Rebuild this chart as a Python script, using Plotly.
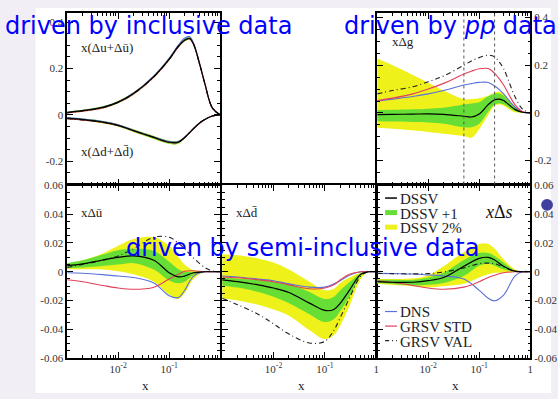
import plotly.graph_objects as go

W, H = 558, 399

# ---------------- data ----------------
x_tl = [0.001, 0.002, 0.005, 0.01, 0.02, 0.05, 0.1, 0.15, 0.2, 0.25, 0.3, 0.4, 0.5, 0.7, 1.0]
uplus_dssv = [0.010, 0.018, 0.032, 0.055, 0.092, 0.165, 0.240, 0.295, 0.322, 0.330, 0.305, 0.215, 0.135, 0.030, 0.0]
uplus_dns  = [0.011, 0.019, 0.034, 0.057, 0.094, 0.168, 0.245, 0.300, 0.330, 0.338, 0.310, 0.218, 0.136, 0.030, 0.0]
uplus_grsv = [0.008, 0.016, 0.030, 0.053, 0.090, 0.163, 0.238, 0.292, 0.320, 0.328, 0.303, 0.214, 0.134, 0.030, 0.0]
uplus_val  = [0.009, 0.017, 0.031, 0.054, 0.091, 0.164, 0.239, 0.293, 0.321, 0.329, 0.304, 0.214, 0.134, 0.030, 0.0]
uplus_y_up = [0.014, 0.022, 0.037, 0.060, 0.097, 0.170, 0.246, 0.301, 0.328, 0.335, 0.309, 0.218, 0.137, 0.031, 0.0]
uplus_y_lo = [0.006, 0.014, 0.027, 0.050, 0.087, 0.160, 0.234, 0.289, 0.316, 0.325, 0.301, 0.212, 0.133, 0.029, 0.0]
dplus_dssv = [-0.014, -0.020, -0.031, -0.045, -0.068, -0.097, -0.118, -0.118, -0.098, -0.077, -0.059, -0.034, -0.020, -0.005, 0.0]
dplus_dns  = [-0.012, -0.018, -0.029, -0.043, -0.066, -0.095, -0.115, -0.115, -0.096, -0.076, -0.058, -0.034, -0.020, -0.005, 0.0]
dplus_grsv = [-0.017, -0.023, -0.033, -0.047, -0.069, -0.098, -0.119, -0.119, -0.099, -0.078, -0.060, -0.035, -0.020, -0.005, 0.0]
dplus_val  = [-0.016, -0.022, -0.032, -0.046, -0.068, -0.097, -0.118, -0.118, -0.098, -0.077, -0.059, -0.034, -0.020, -0.005, 0.0]
dplus_y_up = [-0.010, -0.016, -0.026, -0.040, -0.062, -0.091, -0.112, -0.112, -0.094, -0.074, -0.057, -0.033, -0.019, -0.005, 0.0]
dplus_y_lo = [-0.018, -0.024, -0.036, -0.050, -0.074, -0.104, -0.125, -0.125, -0.102, -0.080, -0.061, -0.035, -0.021, -0.005, 0.0]

x_g = [0.001, 0.002, 0.005, 0.01, 0.02, 0.05, 0.07, 0.1, 0.15, 0.2, 0.25, 0.3, 0.5, 0.7, 1.0]
g_dssv = [-0.007, -0.006, -0.005, -0.004, -0.006, -0.014, -0.017, -0.004, 0.035, 0.055, 0.058, 0.052, 0.015, 0.003, 0.0]
g_g_up = [0.012, 0.013, 0.015, 0.018, 0.022, 0.035, 0.040, 0.045, 0.070, 0.080, 0.080, 0.072, 0.022, 0.004, 0.0]
g_g_lo = [-0.035, -0.036, -0.038, -0.040, -0.045, -0.060, -0.060, -0.045, 0.005, 0.035, 0.040, 0.036, 0.008, 0.001, 0.0]
g_y_up = [0.228, 0.200, 0.159, 0.127, 0.094, 0.058, 0.058, 0.062, 0.072, 0.086, 0.088, 0.080, 0.028, 0.005, 0.0]
g_y_lo = [-0.062, -0.066, -0.073, -0.080, -0.087, -0.097, -0.104, -0.068, -0.008, 0.030, 0.035, 0.030, 0.003, 0.0, 0.0]
g_dns  = [0.050, 0.058, 0.069, 0.080, 0.094, 0.117, 0.123, 0.128, 0.128, 0.113, 0.097, 0.080, 0.025, 0.004, 0.0]
g_grsv = [0.052, 0.062, 0.080, 0.100, 0.124, 0.163, 0.175, 0.185, 0.186, 0.166, 0.142, 0.117, 0.035, 0.006, 0.0]
g_val  = [0.080, 0.094, 0.110, 0.131, 0.155, 0.200, 0.218, 0.232, 0.242, 0.235, 0.212, 0.186, 0.069, 0.017, 0.0]

x_b = [0.001, 0.002, 0.005, 0.01, 0.02, 0.05, 0.1, 0.15, 0.2, 0.3, 0.5, 0.7, 1.0]
ub_dssv = [0.0042, 0.0055, 0.0082, 0.010, 0.011, 0.008, -0.0007, -0.0035, -0.003, -0.0007, 0.0, 0.0, 0.0]
ub_g_up = [0.006, 0.008, 0.012, 0.015, 0.016, 0.0145, 0.007, 0.002, 0.0, 0.0, 0.0, 0.0, 0.0]
ub_g_lo = [0.0025, 0.003, 0.004, 0.005, 0.006, 0.0016, -0.006, -0.008, -0.007, -0.002, 0.0, 0.0, 0.0]
ub_y_up = [0.0055, 0.008, 0.0127, 0.018, 0.0227, 0.024, 0.018, 0.0104, 0.005, 0.001, 0.0, 0.0, 0.0]
ub_y_lo = [0.002, 0.0018, 0.0016, 0.0004, -0.0018, -0.007, -0.016, -0.019, -0.015, -0.005, 0.0, 0.0, 0.0]
ub_dns  = [-0.0007, -0.001, -0.002, -0.003, -0.004, -0.0078, -0.0167, -0.018, -0.013, -0.003, 0.0, 0.0, 0.0]
ub_grsv = [-0.0056, -0.0069, -0.0095, -0.0113, -0.0122, -0.0107, -0.005, -0.0018, 0.0004, 0.0007, 0.0, 0.0, 0.0]
ub_val  = [0.003, 0.005, 0.008, 0.011, 0.016, 0.024, 0.024, 0.020, 0.016, 0.0095, 0.003, 0.0005, 0.0]

db_dssv = [-0.0056, -0.0069, -0.0091, -0.0113, -0.0144, -0.0218, -0.0269, -0.0262, -0.0218, -0.0129, -0.0018, 0.0, 0.0]
db_g_up = [-0.004, -0.0048, -0.0056, -0.0069, -0.0084, -0.014, -0.0189, -0.0173, -0.0129, -0.0073, -0.001, 0.0, 0.0]
db_g_lo = [-0.0095, -0.011, -0.014, -0.0173, -0.0218, -0.0295, -0.035, -0.0329, -0.0273, -0.0173, -0.0029, 0.0, 0.0]
db_y_up = [0.0122, 0.0115, 0.0093, 0.0064, 0.0016, -0.0069, -0.0129, -0.0118, -0.0078, -0.004, -0.0007, 0.0, 0.0]
db_y_lo = [-0.0184, -0.020, -0.0229, -0.0262, -0.0306, -0.0406, -0.0468, -0.044, -0.0373, -0.024, -0.0051, 0.0, 0.0]
db_dns  = [-0.0029, -0.0036, -0.0051, -0.0062, -0.0084, -0.0107, -0.0107, -0.0084, -0.0062, -0.0024, 0.0, 0.0, 0.0]
db_grsv = [-0.0036, -0.0042, -0.0056, -0.0069, -0.0091, -0.0118, -0.0113, -0.009, -0.0056, -0.0018, 0.0, 0.0, 0.0]
db_val  = [-0.0184, -0.0229, -0.0295, -0.0362, -0.0433, -0.0495, -0.0484, -0.0406, -0.0318, -0.0184, -0.003, 0.0, 0.0]

s_dssv = [-0.0069, -0.0073, -0.0073, -0.0062, -0.004, 0.0038, 0.0093, 0.010, 0.0082, 0.0038, 0.0004, 0.0, 0.0]
s_g_up = [-0.0056, -0.0056, -0.0056, -0.004, -0.0007, 0.0082, 0.013, 0.013, 0.011, 0.0064, 0.0009, 0.0, 0.0]
s_g_lo = [-0.0078, -0.0085, -0.0095, -0.0091, -0.0078, -0.0029, 0.0042, 0.0056, 0.0042, 0.0016, 0.0, 0.0, 0.0]
s_y_up = [-0.0051, -0.005, -0.0047, -0.0024, 0.0038, 0.0138, 0.0193, 0.0193, 0.016, 0.0087, 0.0016, 0.0, 0.0]
s_y_lo = [-0.0084, -0.0092, -0.010, -0.0107, -0.010, -0.0084, -0.004, -0.0018, -0.0007, -0.0007, -0.0002, 0.0, 0.0]
s_dns  = [-0.0011, -0.0013, -0.0016, -0.0022, -0.0029, -0.0051, -0.0129, -0.0184, -0.0202, -0.0162, -0.003, 0.0, 0.0]
s_grsv = [-0.0062, -0.0073, -0.0095, -0.0113, -0.0122, -0.0107, -0.0069, -0.004, -0.0024, -0.0007, 0.0, 0.0, 0.0]
s_val  = [-0.0011, -0.0013, -0.0015, -0.0013, -0.0002, 0.0027, 0.0056, 0.006, 0.0056, 0.0033, 0.0004, 0.0, 0.0]

legend_top = ["DSSV", "DSSV +1", "DSSV 2%"]
legend_bottom = ["DNS", "GRSV STD", "GRSV VAL"]

x_major = [0.01, 0.1, 1.0]
x_major_text = ["10<sup>-2</sup>", "10<sup>-1</sup>", "1"]
x_minor = [m * d for d in (0.001, 0.01, 0.1) for m in range(2, 10)]
ytop_vals = [-0.2, 0.0, 0.2, 0.4]
ytop_text = ["-0.2", "0", "0.2", "0.4"]
ybot_vals = [-0.06, -0.04, -0.02, 0.0, 0.02, 0.04, 0.06]
ybot_text = ["-0.06", "-0.04", "-0.02", "0", "0.02", "0.04", "0.06"]

# ---------------- styling ----------------
YELLOW = "#eef21a"
GREEN = "#66de36"
BLUE = "#5a72d8"
RED = "#e2405c"
VALC = "#222222"
VALDASH = "5px,3px,1px,3px"
SERIF = "Liberation Serif"

fig = go.Figure()


def add_panel(ax, x, dssv, g_up, g_lo, y_up, y_lo, dns, grsv, val):
    xa, ya = ("x" + ax, "y" + ax)
    common = dict(xaxis=xa, yaxis=ya, hoverinfo="skip", mode="lines", showlegend=False)
    fig.add_trace(go.Scatter(x=x, y=y_up, line=dict(width=0, shape="spline", color=YELLOW), **common))
    fig.add_trace(go.Scatter(x=x, y=y_lo, fill="tonexty", fillcolor=YELLOW,
                             line=dict(width=0, shape="spline", color=YELLOW), name=legend_top[2], **common))
    fig.add_trace(go.Scatter(x=x, y=g_up, line=dict(width=0, shape="spline", color=GREEN), **common))
    fig.add_trace(go.Scatter(x=x, y=g_lo, fill="tonexty", fillcolor=GREEN,
                             line=dict(width=0, shape="spline", color=GREEN), name=legend_top[1], **common))
    fig.add_trace(go.Scatter(x=x, y=dns, line=dict(width=1.1, shape="spline", color=BLUE),
                             name=legend_bottom[0], **common))
    fig.add_trace(go.Scatter(x=x, y=grsv, line=dict(width=1.1, shape="spline", color=RED),
                             name=legend_bottom[1], **common))
    fig.add_trace(go.Scatter(x=x, y=val, line=dict(width=1.1, shape="spline", color=VALC, dash=VALDASH),
                             name=legend_bottom[2], **common))
    fig.add_trace(go.Scatter(x=x, y=dssv, line=dict(width=1.2, shape="spline", color="black"),
                             name=legend_top[0], **common))


add_panel("", x_tl, uplus_dssv, uplus_y_up, uplus_y_lo, uplus_y_up, uplus_y_lo, uplus_dns, uplus_grsv, uplus_val)
add_panel("", x_tl, dplus_dssv, dplus_y_up, dplus_y_lo, dplus_y_up, dplus_y_lo, dplus_dns, dplus_grsv, dplus_val)
add_panel("2", x_g, g_dssv, g_g_up, g_g_lo, g_y_up, g_y_lo, g_dns, g_grsv, g_val)
add_panel("3", x_b, ub_dssv, ub_g_up, ub_g_lo, ub_y_up, ub_y_lo, ub_dns, ub_grsv, ub_val)
add_panel("4", x_b, db_dssv, db_g_up, db_g_lo, db_y_up, db_y_lo, db_dns, db_grsv, db_val)
add_panel("5", x_b, s_dssv, s_g_up, s_g_lo, s_y_up, s_y_lo, s_dns, s_grsv, s_val)


# ---------------- axes ----------------
def px(v):
    return v / W


def py(v):
    return 1 - v / H


cols = [(68, 223), (225, 381), (382, 537)]
top_row = (7, 184)
bot_row = (185, 363)

tickfont = dict(family=SERIF, size=11, color="#333")


def xaxis_style(dom, labels_vals=None, labels_text=None):
    d = dict(type="log", range=[-3, 0], domain=[px(dom[0]), px(dom[1])],
             showline=True, linecolor="black", linewidth=1.5, mirror="allticks",
             ticks="inside", ticklen=6, tickwidth=1, tickcolor="black",
             showgrid=False, zeroline=False, tickfont=tickfont,
             minor=dict(ticks="inside", ticklen=3, tickwidth=1, tickcolor="black",
                        tickmode="array", tickvals=x_minor, showgrid=False))
    if labels_vals is None:
        d.update(tickmode="array", tickvals=x_major, ticktext=["", "", ""], showticklabels=False)
    else:
        d.update(tickmode="array", tickvals=labels_vals, ticktext=labels_text)
    return d


def yaxis_style(row, rng, vals, text, minor_dt, side="left", labels=True):
    return dict(range=rng, domain=[py(row[1]), py(row[0])], side=side,
                showline=True, linecolor="black", linewidth=1.5, mirror="allticks",
                ticks="inside", ticklen=6, tickwidth=1, tickcolor="black",
                tickmode="array", tickvals=vals, ticktext=text, showticklabels=labels,
                showgrid=False, zeroline=False, tickfont=tickfont,
                minor=dict(ticks="inside", ticklen=3, tickwidth=1, tickcolor="black",
                           dtick=minor_dt, showgrid=False))


fig.update_layout(
    xaxis=dict(**xaxis_style(cols[0]), anchor="y"),
    yaxis=dict(**yaxis_style(top_row, [-0.3, 0.44], ytop_vals, ytop_text, 0.05), anchor="x"),
    xaxis2=dict(**xaxis_style(cols[2]), anchor="y2"),
    yaxis2=dict(**yaxis_style(top_row, [-0.3, 0.42], ytop_vals, ytop_text, 0.05, side="right"), anchor="x2"),
    xaxis3=dict(**xaxis_style(cols[0], x_major[:2], x_major_text[:2]), anchor="y3"),
    yaxis3=dict(**yaxis_style(bot_row, [-0.06, 0.06], ybot_vals, ybot_text, 0.005), anchor="x3"),
    xaxis4=dict(**xaxis_style(cols[1], x_major, x_major_text), anchor="y4"),
    yaxis4=dict(**yaxis_style(bot_row, [-0.06, 0.06], ybot_vals, ybot_text, 0.005, labels=False), anchor="x4"),
    xaxis5=dict(**xaxis_style(cols[2], x_major, x_major_text), anchor="y5"),
    yaxis5=dict(**yaxis_style(bot_row, [-0.06, 0.06], ybot_vals, ybot_text, 0.005, side="right"), anchor="x5"),
)

shapes = []
# RHIC x-range markers in the gluon panel
for xv in (0.05, 0.2):
    shapes.append(dict(type="line", xref="x2", yref="y2 domain", x0=xv, x1=xv, y0=0, y1=1,
                       line=dict(color="#555", width=1, dash="dot")))

# slide background
shapes.append(dict(type="rect", xref="paper", yref="paper", x0=px(36), x1=1, y0=0, y1=py(2),
                   fillcolor="white", line=dict(width=0), layer="below"))

# beamer bullet
shapes.append(dict(type="circle", xref="paper", yref="paper", x0=px(548), x1=px(560), y0=py(211), y1=py(199),
                   fillcolor="#3f3f9e", line=dict(width=0)))

ann = []
lab = dict(family=SERIF, size=13, color="#222")
ann.append(dict(text="x(Δu+Δū)", x=px(80), y=py(43), font=lab))
ann.append(dict(text="x(Δd+Δd\u0304)", x=px(80), y=py(150), font=lab))
ann.append(dict(text="xΔg", x=px(395), y=py(37), font=lab))
ann.append(dict(text="xΔū", x=px(80), y=py(213), font=lab))
ann.append(dict(text="xΔd\u0304", x=px(237), y=py(213), font=lab))
ann.append(dict(text="<i>x</i>Δ<i>s</i>", x=px(489), y=py(212), font=dict(family=SERIF, size=18, color="#111")))
for cx in (147, 305, 461):
    ann.append(dict(text="x", x=px(cx), y=py(391), xanchor="center", font=dict(family=SERIF, size=13, color="#222")))

# manual legend (two groups inside the xΔs panel)
legfont = dict(family=SERIF, size=15, color="#222")
leg_rows_top = [198, 213, 228]
leg_rows_bot = [315, 330, 345]
top_styles = [dict(color="black", width=1.5), dict(color=GREEN, width=5), dict(color=YELLOW, width=5)]
bot_styles = [dict(color=BLUE, width=1.2), dict(color=RED, width=1.2), dict(color=VALC, width=1.2, dash="4px,3px,1px,3px")]
for name, yy, st in zip(legend_top + legend_bottom, leg_rows_top + leg_rows_bot, top_styles + bot_styles):
    shapes.append(dict(type="line", xref="paper", yref="paper", x0=px(390), x1=px(402), y0=py(yy), y1=py(yy),
                       line=st))
    ann.append(dict(text=name, x=px(403), y=py(yy + 1), font=legfont))

blue = dict(family="DejaVu Sans", size=24, color="#0000ff")
ann.append(dict(text="driven by inclusive data", x=px(3), y=py(21), font=blue))
ann.append(dict(text="driven by <i>pp</i> data", x=px(346), y=py(21), font=blue))
ann.append(dict(text="driven by semi-inclusive data", x=px(126), y=py(250), font=blue))

for a in ann:
    a.setdefault("xanchor", "left")
    a.update(xref="paper", yref="paper", yanchor="middle", showarrow=False)

fig.update_layout(
    annotations=ann,
    shapes=shapes,
    width=W, height=H,
    margin=dict(l=0, r=0, t=0, b=0),
    paper_bgcolor="#f2eef5",
    plot_bgcolor="rgba(0,0,0,0)",
    showlegend=False,
)

fig.write_html("out.html", config={"displayModeBar": False},
               post_script="document.body.style.margin='0';document.body.style.padding='0';"
                           "document.body.style.background='#f2eef5';")
